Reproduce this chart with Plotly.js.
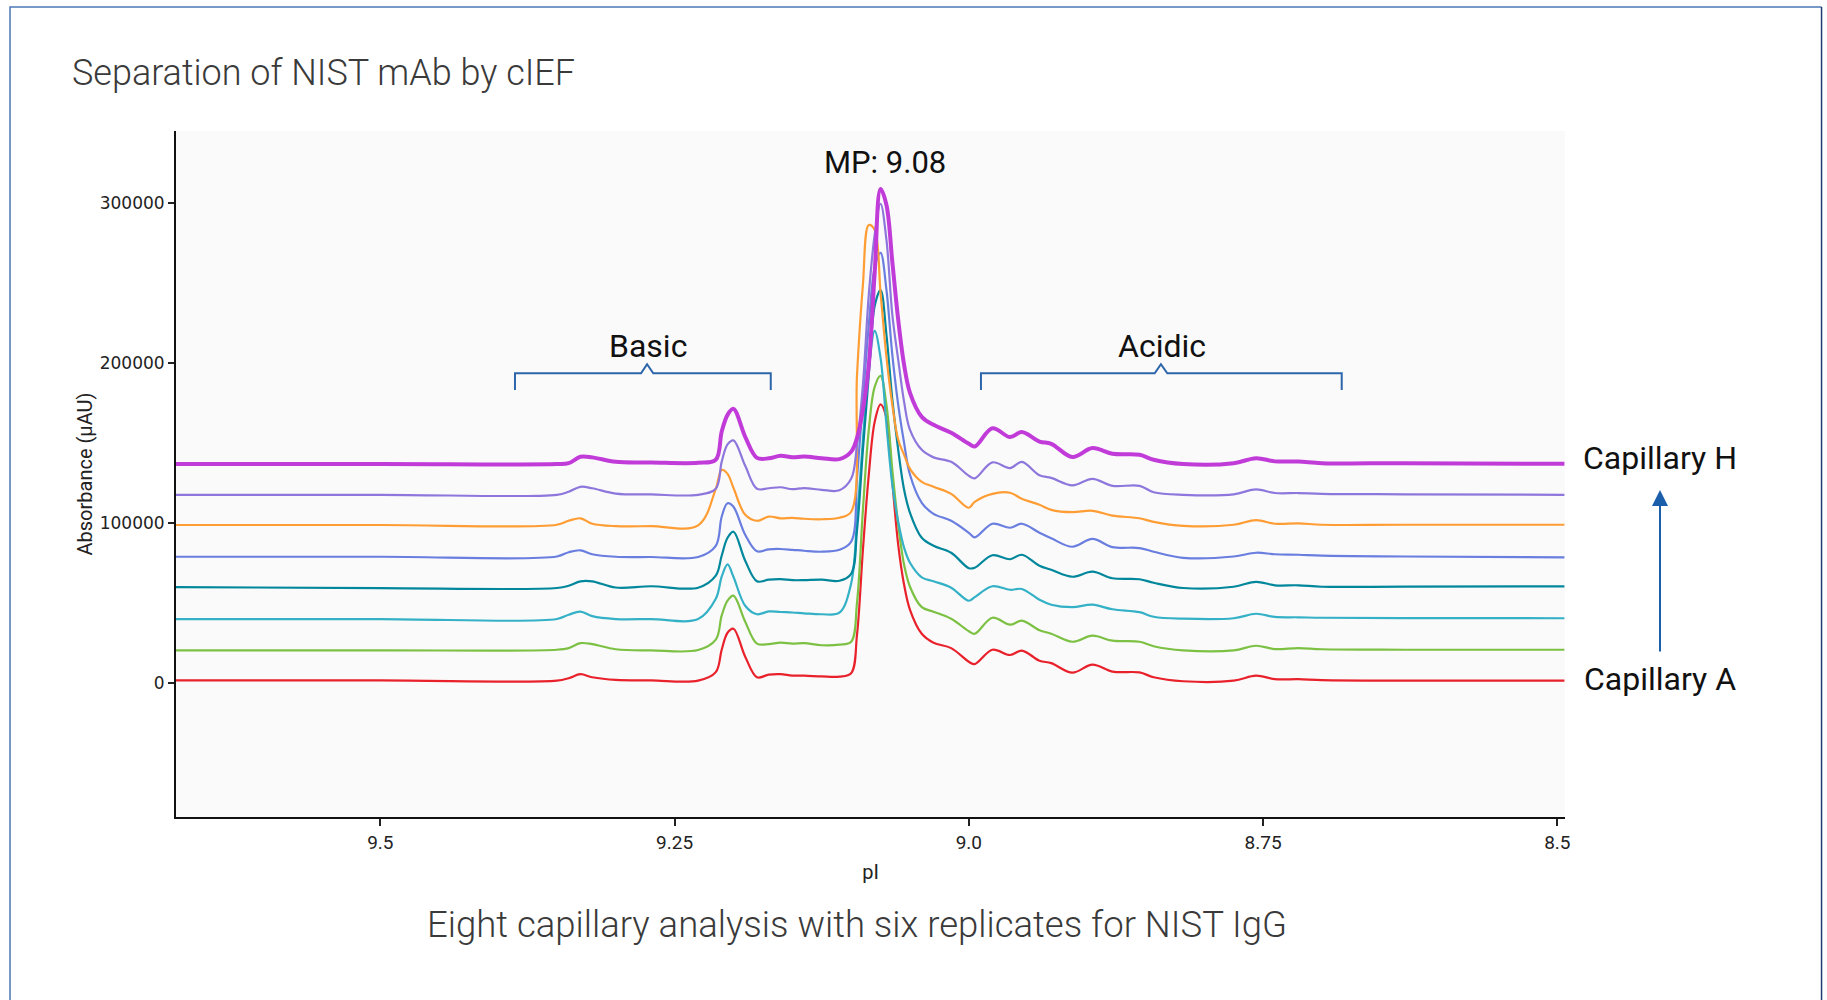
<!DOCTYPE html>
<html>
<head>
<meta charset="utf-8">
<script src="https://cdn.plot.ly/plotly-3.0.1.min.js"></script>
<style>
  html, body { margin: 0; padding: 0; background: #ffffff; }
  #chart { width: 1827px; height: 1000px; }
</style>
</head>
<body>
<div id="chart"></div>
<script>
// pI grid (x values shared by all capillaries)
const pI = [9.674, 9.50, 9.35, 9.34, 9.33, 9.32, 9.30, 9.27, 9.23, 9.215,
  9.21, 9.205, 9.20, 9.19, 9.18, 9.17, 9.16, 9.15, 9.14, 9.125,
  9.11, 9.10, 9.095, 9.09, 9.085, 9.08, 9.075, 9.07, 9.065, 9.06,
  9.055, 9.05, 9.04, 9.03, 9.015, 9.00, 8.995, 8.98, 8.965, 8.955,
  8.94, 8.93, 8.912, 8.895, 8.878, 8.855, 8.843, 8.818, 8.775, 8.756,
  8.74, 8.72, 8.70, 8.63, 8.494];

// Absorbance (µAU) per capillary, as plotted (stacked offsets included)
const capA = [1400, 1400, 1250, 2800, 5300, 3400, 1700, 1400, 1250, 6600,
  20600, 31250, 33750, 16250, 3400, 5000, 5300, 4400, 4400, 3900,
  3750, 5900, 30000, 83100, 130000, 163100, 174000, 165600, 125600, 86250,
  61250, 45600, 30600, 25000, 21600, 13100, 11600, 20600, 17300, 20100,
  13750, 12200, 6250, 11250, 6900, 6400, 3400, 900, 1250, 4400,
  2200, 2200, 1600, 1250, 1250];
const capB = [20200, 20200, 20600, 21600, 24700, 24100, 20900, 20200, 20400, 26900,
  41900, 51250, 54400, 38100, 24400, 24100, 25000, 24400, 24700, 23400,
  23750, 25600, 50000, 108100, 158100, 185000, 191900, 173750, 133100, 98750,
  73750, 60000, 47200, 44400, 40000, 32200, 30600, 40600, 36250, 38750,
  32800, 30600, 25600, 29400, 26250, 25600, 22800, 20200, 20200, 23100,
  21000, 21600, 20900, 20600, 20600];
const capC = [39800, 39800, 39800, 42500, 44400, 41600, 39800, 39800, 39800, 52500,
  66250, 74000, 66250, 48100, 42800, 44600, 44200, 43900, 43400, 42800,
  43750, 62000, 101900, 151900, 195600, 220000, 203100, 161250, 123750, 100600,
  84400, 75000, 65900, 63400, 59400, 51250, 53500, 60300, 58100, 58600,
  51900, 48750, 47200, 48750, 45900, 44100, 41250, 40000, 40300, 43100,
  41100, 40900, 40600, 40400, 40300];
const capD = [59800, 59100, 59200, 60600, 63400, 63400, 59500, 60300, 59400, 66900,
  79400, 90600, 94400, 76250, 63400, 64400, 64700, 64100, 64100, 64400,
  63750, 68100, 95600, 145600, 192500, 235600, 245500, 217500, 176900, 145600,
  120600, 106250, 90600, 85600, 81250, 71600, 71900, 79700, 77200, 80000,
  73100, 70600, 66250, 69400, 65300, 64700, 62500, 59200, 60000, 63100,
  60900, 60900, 60000, 60100, 60200];
const capE = [78750, 78750, 78900, 81600, 82800, 80300, 78750, 78600, 78600, 85600,
  103750, 112200, 110000, 92500, 82200, 83400, 83600, 83100, 82500, 81900,
  83100, 88100, 128000, 176900, 223750, 259400, 268750, 245600, 205000, 173750,
  150000, 130000, 112500, 105600, 101250, 93750, 90900, 99400, 96900, 99400,
  93750, 90300, 85000, 89900, 84800, 84200, 81900, 78100, 78900, 81250,
  80300, 80000, 79400, 78900, 78400];
const capF = [98600, 98600, 98750, 101250, 102800, 99400, 97900, 97900, 98400, 121250,
  133100, 130600, 121900, 105000, 101250, 103900, 102800, 103100, 102500, 102200,
  103100, 106900, 192500, 248750, 286250, 283100, 243750, 203750, 173750, 151900,
  142500, 133750, 125600, 122500, 118100, 109400, 113100, 118100, 118750, 115000,
  111250, 108100, 106600, 107500, 104500, 102800, 100600, 98100, 98750, 101600,
  99400, 99600, 98750, 98750, 98750];
const capG = [117500, 117500, 117500, 119400, 122500, 121600, 118250, 117700, 117500, 121250,
  138100, 149000, 151500, 135600, 121250, 121600, 122200, 121000, 121700, 120600,
  120300, 127500, 148750, 186250, 242500, 280000, 299500, 276900, 230000, 201900,
  175600, 158100, 145600, 140900, 138100, 129400, 127800, 137800, 134200, 138100,
  129700, 128100, 123400, 127500, 123100, 123100, 119100, 117500, 117800, 120900,
  118600, 118600, 118100, 117800, 117500];
const capH = [136700, 136700, 136700, 137300, 141250, 140900, 138100, 137700, 137500, 139400,
  156900, 167500, 171250, 153750, 140600, 140300, 141900, 141000, 141400, 140400,
  139800, 144400, 153100, 170600, 198750, 256250, 308750, 298750, 263100, 226900,
  198750, 181250, 166250, 161250, 156250, 149400, 147700, 159100, 153600, 156700,
  150800, 149400, 141100, 146700, 143100, 142500, 139400, 136700, 137200, 140400,
  138400, 138300, 137300, 137200, 136900];

const seriesNames = ['Capillary A', 'Capillary B', 'Capillary C', 'Capillary D',
  'Capillary E', 'Capillary F', 'Capillary G', 'Capillary H'];
const seriesValues = [capA, capB, capC, capD, capE, capF, capG, capH];
const seriesColors = ['#e8212b', '#7cc143', '#34b1c6', '#00879b',
  '#6a7ee0', '#ff9d35', '#8e77dc', '#c13bd9'];
const seriesWidths = [2.2, 2.2, 2.2, 2.2, 2.2, 2.2, 2.2, 4];

const xTickVals = [9.5, 9.25, 9.0, 8.75, 8.5];
const xTickText = ['9.5', '9.25', '9.0', '8.75', '8.5'];
const yTickVals = [0, 100000, 200000, 300000];
const yTickText = ['0', '100000', '200000', '300000'];

const traces = seriesValues.map((vals, i) => ({
  type: 'scatter',
  mode: 'lines',
  name: seriesNames[i],
  x: pI,
  y: vals,
  line: { color: seriesColors[i], width: seriesWidths[i], shape: 'spline', smoothing: 1 },
  hoverinfo: 'x+y+name'
}));

const bracketColor = '#2c65aa';
const textFont = { family: 'Roboto, "Noto Sans", sans-serif', size: 32, color: '#111111' };

const layout = {
  width: 1827,
  height: 1000,
  margin: { l: 176, r: 262, t: 131, b: 183, pad: 0 },
  paper_bgcolor: '#ffffff',
  plot_bgcolor: '#fafafa',
  showlegend: false,
  title: {
    text: 'Separation of NIST mAb by cIEF',
    xref: 'container', yref: 'container',
    x: 0.0394, xanchor: 'left',
    y: 0.9275, yanchor: 'middle',
    font: { family: 'Roboto, sans-serif', size: 36, weight: 300, color: '#3a3a3a' }
  },
  xaxis: {
    range: [9.6736, 8.4935],
    tickvals: xTickVals,
    ticktext: xTickText,
    ticks: 'outside', ticklen: 7, tickwidth: 1.5, tickcolor: '#222',
    showline: true, linecolor: '#111', linewidth: 2,
    showgrid: false, zeroline: false,
    tickfont: { family: 'Roboto, sans-serif', size: 19, color: '#222' },
    title: { text: 'pI', standoff: 12, font: { family: 'Roboto, sans-serif', size: 20, color: '#222' } }
  },
  yaxis: {
    range: [-84000, 345000],
    tickvals: yTickVals,
    ticktext: yTickText,
    ticks: 'outside', ticklen: 6, tickwidth: 1.5, tickcolor: '#222',
    showline: true, linecolor: '#111', linewidth: 2,
    showgrid: false, zeroline: false,
    tickfont: { family: '"DejaVu Sans", sans-serif', size: 17, color: '#222' },
    title: { text: 'Absorbance (µAU)', standoff: 2, font: { family: 'Roboto, sans-serif', size: 20, color: '#222' } }
  },
  shapes: [
    { type: 'path', xref: 'paper', yref: 'paper',
      path: 'M 1.1847,1.1808 L -0.1195,1.1808 L -0.1195,-0.2711',
      line: { color: '#4a78b5', width: 1.5 } },
    { type: 'line', xref: 'paper', yref: 'paper', x0: 1.1847, x1: 1.1847, y0: -0.2711, y1: 1.1808,
      line: { color: '#1f3d73', width: 1.5 } },
    { type: 'path', xref: 'x', yref: 'y',
      path: 'M 9.3856,183040 L 9.3856,193480 L 9.2785,193480 L 9.2734,199110 L 9.2681,193480 L 9.1683,193480 L 9.1683,183040',
      line: { color: bracketColor, width: 2 } },
    { type: 'path', xref: 'x', yref: 'y',
      path: 'M 8.9897,183040 L 8.9897,193480 L 8.8421,193480 L 8.8368,199110 L 8.8314,193480 L 8.6832,193480 L 8.6832,183040',
      line: { color: bracketColor, width: 2 } }
  ],
  annotations: [
    { text: 'MP: 9.08', xref: 'x', yref: 'y', x: 9.0712, y: 325300, showarrow: false,
      xanchor: 'center', yanchor: 'middle', font: Object.assign({}, textFont, { size: 31 }) },
    { text: 'Basic', xref: 'x', yref: 'y', x: 9.2730, y: 210800, showarrow: false,
      xanchor: 'center', yanchor: 'middle', font: textFont },
    { text: 'Acidic', xref: 'x', yref: 'y', x: 8.8361, y: 210800, showarrow: false,
      xanchor: 'center', yanchor: 'middle', font: textFont },
    { text: 'Capillary H', xref: 'paper', yref: 'paper', x: 1.0684, y: 0.5229, showarrow: false,
      xanchor: 'center', yanchor: 'middle', font: textFont },
    { text: 'Capillary A', xref: 'paper', yref: 'paper', x: 1.0684, y: 0.2007, showarrow: false,
      xanchor: 'center', yanchor: 'middle', font: textFont },
    { text: '', xref: 'paper', yref: 'paper', x: 1.0684, y: 0.4767,
      showarrow: true, ax: 0, ay: 163, axref: 'pixel', ayref: 'pixel',
      arrowhead: 2, arrowwidth: 2, arrowsize: 1.6, arrowcolor: '#1b5fab', standoff: 0, startstandoff: 0 },
    { text: 'Eight capillary analysis with six replicates for NIST IgG', xref: 'paper', yref: 'paper',
      x: 0.4903, y: -0.1574, showarrow: false, xanchor: 'center', yanchor: 'middle',
      font: { family: 'Roboto, sans-serif', size: 36.5, weight: 300, color: '#3a3a3a' } }
  ]
};

Plotly.newPlot('chart', traces, layout, { displayModeBar: false, staticPlot: false });
</script>
</body>
</html>
